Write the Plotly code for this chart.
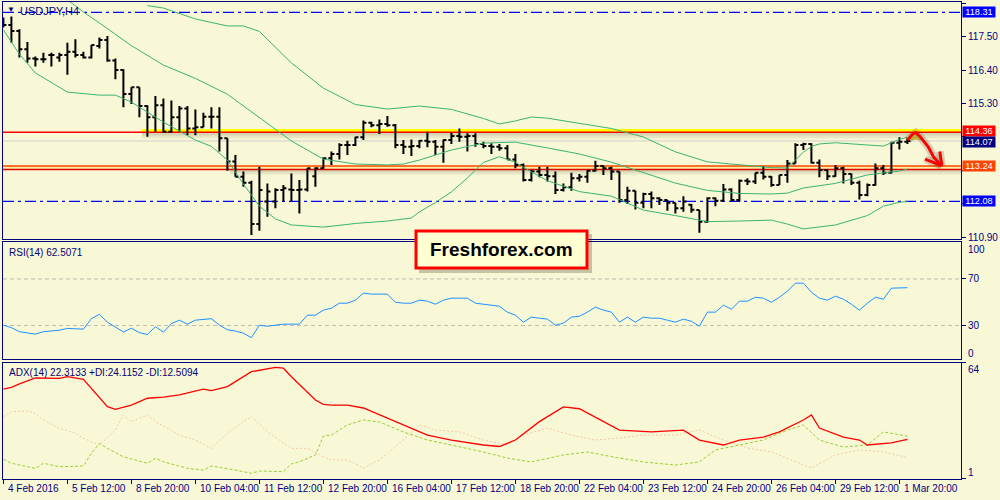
import plotly.graph_objects as go

# ---------------- data ----------------
bars = list(range(114))
opens = [118.03, 117.89, 117.69, 117.09, 116.79, 116.76, 116.90, 116.82, 116.90, 117.01,
         116.90, 116.82, 117.20, 117.40, 116.72, 116.41, 115.62, 115.84, 115.22, 114.85,
         115.25, 114.37, 114.85, 115.14, 114.48, 114.52, 114.87, 114.87, 114.16, 113.39,
         112.89, 112.69, 111.33, 112.07, 112.07, 112.45, 112.47, 112.45, 112.47, 112.91,
         113.17, 113.50, 113.64, 113.94, 113.94, 114.19, 114.67, 114.59, 114.63, 114.59,
         113.94, 113.88, 113.90, 114.08, 114.04, 113.88, 114.10, 114.23, 114.21, 114.23,
         113.97, 113.90, 113.88, 113.83, 113.46, 113.28, 112.78, 113.06, 112.95, 112.91,
         112.45, 112.54, 112.84, 112.89, 113.09, 113.24, 113.17, 113.06, 112.12, 112.43,
         112.03, 112.32, 112.18, 112.12, 112.03, 111.85, 111.97, 111.79, 111.41, 112.18,
         112.10, 112.47, 112.12, 112.76, 112.73, 113.02, 112.89, 112.62, 112.95, 113.33,
         113.94, 113.97, 113.35, 113.11, 112.91, 113.17, 112.98, 112.69, 112.29, 112.62,
         113.17, 113.02, 114.01, 114.04]
highs = [118.14, 118.17, 117.75, 117.33, 116.85, 116.98, 116.98, 116.98, 117.31, 117.42,
         117.01, 117.23, 117.48, 117.53, 116.79, 116.43, 115.84, 115.84, 115.25, 115.55,
         115.47, 115.40, 115.22, 115.22, 115.11, 115.00, 115.18, 115.18, 114.16, 113.61,
         113.06, 112.76, 113.22, 112.67, 112.51, 112.62, 113.00, 112.78, 113.17, 113.20,
         113.53, 113.72, 113.99, 114.08, 114.21, 114.74, 114.70, 114.78, 114.89, 114.63,
         114.10, 114.12, 114.10, 114.37, 114.10, 114.12, 114.34, 114.48, 114.32, 114.32,
         114.04, 113.99, 113.97, 113.94, 113.64, 113.33, 113.11, 113.22, 113.22, 113.06,
         112.67, 113.02, 112.98, 113.10, 113.42, 113.26, 113.22, 113.06, 112.56, 112.43,
         112.36, 112.40, 112.21, 112.12, 112.03, 112.25, 111.99, 111.79, 112.21, 112.21,
         112.65, 112.51, 112.80, 112.84, 113.02, 113.24, 112.91, 112.95, 113.44, 113.99,
         114.01, 113.99, 113.46, 113.12, 113.28, 113.22, 113.00, 112.76, 112.67, 113.33,
         113.28, 114.04, 114.19, 114.16]
lows = [117.81, 117.31, 116.82, 116.65, 116.52, 116.65, 116.52, 116.68, 116.25, 116.82,
        116.79, 116.79, 117.12, 116.68, 116.10, 115.18, 115.29, 114.85, 114.21, 114.37,
        114.34, 114.34, 114.37, 114.26, 114.26, 114.52, 114.48, 113.72, 113.09, 112.89,
        112.56, 110.97, 111.11, 111.57, 111.85, 112.07, 112.07, 111.68, 112.40, 112.56,
        113.15, 113.28, 113.46, 113.61, 113.90, 114.10, 114.52, 114.30, 114.54, 113.83,
        113.64, 113.57, 113.83, 113.86, 113.61, 113.35, 113.97, 114.04, 113.72, 113.88,
        113.83, 113.64, 113.75, 113.46, 113.17, 112.73, 112.73, 112.87, 112.73, 112.32,
        112.40, 112.43, 112.73, 112.69, 113.06, 112.95, 112.78, 112.03, 111.99, 111.81,
        111.85, 111.85, 111.96, 111.77, 111.68, 111.74, 111.70, 111.04, 111.37, 111.92,
        112.07, 112.07, 112.07, 112.62, 112.65, 112.80, 112.56, 112.62, 112.69, 113.33,
        113.77, 113.33, 112.87, 112.78, 112.89, 112.67, 112.62, 112.14, 112.25, 112.60,
        112.95, 113.00, 113.79, 113.97]
closes = [117.89, 117.69, 117.09, 116.79, 116.76, 116.76, 116.90, 116.90, 117.01, 116.90,
          116.82, 117.23, 117.40, 116.72, 116.41, 115.62, 115.84, 115.22, 114.85, 115.25,
          114.37, 114.85, 115.14, 114.48, 114.52, 114.87, 114.87, 114.16, 113.39, 112.89,
          112.69, 111.33, 112.45, 112.40, 112.45, 112.51, 112.45, 112.47, 113.17, 113.17,
          113.50, 113.64, 113.94, 113.94, 114.19, 114.67, 114.59, 114.63, 114.59, 113.94,
          113.88, 113.90, 114.08, 114.04, 113.88, 114.10, 114.23, 114.21, 114.23, 113.97,
          113.90, 113.88, 113.83, 113.46, 113.28, 112.78, 113.06, 112.95, 112.91, 112.45,
          112.54, 112.84, 112.89, 113.09, 113.24, 113.17, 113.06, 112.12, 112.43, 112.03,
          112.32, 112.18, 112.12, 112.03, 111.85, 112.07, 111.80, 111.41, 112.18, 112.10,
          112.47, 112.12, 112.76, 112.73, 113.02, 112.89, 112.62, 112.95, 113.33, 113.94,
          113.97, 113.35, 113.11, 112.91, 113.17, 112.98, 112.69, 112.29, 112.62, 113.17,
          113.02, 114.01, 114.04, 114.07]

bb_upper_x = [18, 20, 24, 28, 30, 32, 36, 40, 44, 48, 52, 56, 60, 62, 64, 66, 68, 72, 76, 80,
              84, 88, 92, 96, 98, 99, 100, 101, 102, 104, 108, 110, 112, 113]
bb_upper_y = [118.53, 118.45, 118.09, 117.86, 117.86, 117.68, 116.64, 115.81, 115.27, 115.12,
              115.22, 115.11, 114.81, 114.63, 114.73, 114.86, 114.82, 114.66, 114.48, 114.20,
              113.71, 113.38, 113.29, 113.19, 113.18, 113.44, 113.70, 113.89, 113.97, 114.01,
              113.94, 113.90, 114.12, 114.19]
bb_mid_x = [8, 10, 12, 16, 20, 24, 28, 32, 36, 40, 44, 48, 50, 52, 56, 60, 64, 68, 72, 76,
            80, 84, 88, 92, 96, 98, 100, 104, 108, 112, 113]
bb_mid_y = [118.72, 118.32, 117.96, 117.21, 116.57, 116.13, 115.61, 114.83, 114.07, 113.47,
            113.31, 113.28, 113.31, 113.44, 113.77, 114.00, 114.03, 113.84, 113.64, 113.37,
            113.03, 112.68, 112.44, 112.34, 112.32, 112.35, 112.52, 112.67, 112.95, 113.08, 113.14]
bb_lower_x = [0, 2, 4, 8, 12, 14, 16, 20, 24, 26, 28, 30, 32, 34, 36, 40, 44, 48, 51, 52,
              54, 56, 58, 60, 62, 64, 66, 68, 72, 76, 78, 80, 84, 88, 92, 96, 98, 100, 104,
              108, 110, 112, 113]
bb_lower_y = [117.73, 116.93, 116.31, 115.68, 115.58, 115.58, 115.35, 114.69, 114.10, 113.89,
              113.44, 112.65, 111.92, 111.50, 111.30, 111.23, 111.35, 111.43, 111.53, 111.73,
              112.04, 112.39, 112.85, 113.36, 113.55, 113.37, 113.05, 112.76, 112.40, 112.25,
              112.02, 111.79, 111.61, 111.41, 111.43, 111.46, 111.33, 111.17, 111.30, 111.61,
              111.92, 112.05, 112.07]

rsi = [30.3, 28.2, 24.7, 23.4, 22.6, 24.7, 25.2, 26.0, 27.5, 27.3,
       26.9, 35.9, 39.7, 32.9, 28.6, 24.5, 27.7, 23.9, 22.3, 29.0,
       24.3, 31.6, 34.6, 31.2, 34.6, 35.5, 35.9, 30.3, 26.4, 25.2,
       23.4, 19.6, 30.3, 29.4, 30.3, 31.2, 31.2, 31.2, 38.9, 38.9,
       43.2, 44.9, 49.2, 49.2, 51.8, 57.8, 57.0, 57.0, 57.0, 50.0,
       49.2, 49.2, 51.8, 50.9, 48.3, 51.8, 53.5, 53.5, 53.5, 49.2,
       48.3, 47.5, 46.6, 41.5, 38.9, 32.9, 37.2, 36.3, 35.5, 30.3,
       32.0, 37.2, 38.0, 41.5, 45.8, 43.2, 41.5, 32.9, 37.2, 32.9,
       37.2, 36.3, 36.3, 34.6, 32.9, 35.5, 33.7, 29.4, 41.5, 41.5,
       47.5, 44.0, 50.9, 50.9, 54.3, 53.5, 50.0, 54.3, 59.5, 66.4,
       66.4, 58.6, 53.5, 51.8, 55.2, 52.6, 48.3, 43.2, 49.2, 54.3,
       52.6, 62.1, 62.1, 62.5]

adx_x = [0, 1, 2, 4, 7, 8, 10, 13, 14, 16, 18, 20, 22, 25, 26, 28, 31, 34, 35, 36,
         39, 40, 41, 43, 45, 50, 53, 56, 60, 62, 64, 67, 70, 72, 75, 77, 81, 85, 87, 90,
         92, 95, 97, 100, 101, 102, 105, 107, 108, 111, 113]
adx_y = [49.6, 50.6, 52.5, 55.7, 55.5, 56.4, 55.0, 40.1, 38.7, 41.0, 44.7, 45.3, 46.5, 49.6,
         48.8, 51.0, 59.1, 61.5, 61.0, 56.4, 43.7, 41.4, 41.0, 41.0, 39.4, 30.2, 24.7, 22.0,
         19.3, 18.5, 22.0, 32.0, 40.0, 39.0, 31.8, 27.4, 26.4, 27.4, 22.0, 19.3, 22.0, 23.6,
         26.4, 32.9, 35.6, 28.5, 23.6, 22.0, 19.3, 20.4, 22.3]
pdi_x = [0, 1, 4, 5, 7, 8, 10, 11, 12, 13, 15, 18, 19, 20, 23, 25, 26, 29, 31, 32, 35, 36,
         37, 39, 40, 41, 43, 45, 47, 50, 53, 56, 60, 63, 66, 70, 73, 77, 80, 84, 87, 89, 92,
         95, 98, 100, 102, 105, 108, 110, 113]
pdi_y = [11.5, 9.4, 6.6, 9.4, 7.5, 7.5, 7.9, 14.8, 20.2, 17.5, 12.9, 9.4, 12.1, 10.2, 6.6,
         5.7, 7.9, 5.7, 3.9, 5.2, 4.8, 9.0, 10.2, 13.9, 24.2, 24.7, 30.2, 32.9, 31.8, 26.4,
         22.0, 19.3, 15.5, 12.2, 10.1, 13.9, 15.5, 12.2, 10.1, 8.4, 10.1, 16.6, 19.3, 22.0,
         27.4, 30.2, 22.0, 18.2, 19.3, 26.4, 24.1]
mdi_x = [0, 1, 3, 4, 5, 7, 9, 10, 12, 14, 15, 16, 18, 19, 22, 24, 26, 28, 30, 31, 33, 35,
         36, 38, 40, 41, 43, 45, 47, 50, 52, 54, 57, 60, 63, 65, 68, 71, 74, 77, 80, 84, 87,
         90, 93, 96, 99, 101, 104, 107, 110, 113]
mdi_y = [34.7, 37.4, 37.8, 36.5, 32.9, 28.4, 25.7, 22.9, 19.3, 27.4, 35.6, 32.0, 35.6, 32.0,
         24.7, 22.0, 17.5, 25.7, 32.0, 34.7, 26.5, 20.2, 17.5, 17.5, 12.9, 11.2, 11.2, 6.8,
         11.2, 22.0, 30.2, 27.4, 26.4, 22.0, 19.3, 24.7, 28.5, 24.7, 22.0, 23.1, 24.7, 24.7,
         27.4, 22.0, 17.7, 15.5, 10.1, 6.8, 13.9, 16.6, 15.5, 12.5]

x_tick_bars = [0, 8, 16, 24, 32, 40, 48, 56, 64, 72, 80, 88, 96, 104, 112]
x_tick_labels = ["4 Feb 2016", "5 Feb 12:00", "8 Feb 20:00", "10 Feb 04:00", "11 Feb 12:00",
                 "12 Feb 20:00", "16 Feb 04:00", "17 Feb 12:00", "18 Feb 20:00", "22 Feb 04:00",
                 "23 Feb 12:00", "24 Feb 20:00", "26 Feb 04:00", "29 Feb 12:00", "1 Mar 20:00"]
price_ticks = [118.60, 117.50, 116.40, 115.30, 114.20, 113.10, 112.00, 110.90]
price_tick_text = ["118.60", "117.50", "116.40", "115.30", "", "", "", "110.90"]

level_top = 118.31
level_res = 114.36
level_res_top = 114.46
level_bid = 114.07
level_sup = 113.24
level_sup_low = 113.13
level_bottom = 112.08

arrow_x = [113.0, 113.75, 114.05, 114.6, 115.6, 116.25, 116.9, 117.3, None,
           117.05, 117.3, None, 115.2, 117.3]
arrow_y = [114.10, 114.32, 114.34, 114.21, 113.88, 113.55, 113.35, 113.25, None,
           113.72, 113.25, None, 113.47, 113.25]
tri_x = [113.05, 113.9, 114.8, 113.05]
tri_y = [114.10, 114.39, 114.10, 114.10]

# ---------------- layout helpers ----------------
W, H = 1000, 500
ML, MR, MT, MB = 3, 39, 2, 21
PW = W - ML - MR
PH = H - MT - MB


def px(x):
    return (x - ML) / PW


def py(y):
    return (H - MB - y) / PH


BG = "#F8F8D6"
NAVY = "#000080"
GREEN = "#3CB371"
FONT = "Liberation Sans, Arial, sans-serif"
FS = 10
XR = [-0.05, 119.7]

fig = go.Figure()

for bx, by in [(bb_upper_x, bb_upper_y), (bb_mid_x, bb_mid_y), (bb_lower_x, bb_lower_y)]:
    fig.add_trace(go.Scatter(x=bx, y=by, mode="lines", line=dict(color=GREEN, width=1),
                             xaxis="x", yaxis="y", hoverinfo="skip"))

fig.add_trace(go.Ohlc(x=bars, open=opens, high=highs, low=lows, close=closes,
                      increasing=dict(line=dict(color="black", width=2)),
                      decreasing=dict(line=dict(color="black", width=2)),
                      tickwidth=0.38, xaxis="x", yaxis="y", hoverinfo="skip"))

fig.add_trace(go.Scatter(x=tri_x, y=tri_y, mode="lines", fill="toself",
                         fillcolor="rgba(205,195,40,0.85)", line=dict(width=0),
                         xaxis="x", yaxis="y", hoverinfo="skip"))
fig.add_trace(go.Scatter(x=arrow_x, y=arrow_y, mode="lines",
                         line=dict(color="rgba(60,40,20,0.18)", width=8),
                         xaxis="x", yaxis="y", hoverinfo="skip"))
fig.add_trace(go.Scatter(x=arrow_x, y=arrow_y, mode="lines",
                         line=dict(color="#FF0000", width=3),
                         xaxis="x", yaxis="y", hoverinfo="skip"))

fig.add_trace(go.Scatter(x=bars, y=rsi, mode="lines", line=dict(color="#1E90FF", width=1),
                         xaxis="x2", yaxis="y2", hoverinfo="skip"))
fig.add_trace(go.Scatter(x=mdi_x, y=mdi_y, mode="lines",
                         line=dict(color="#F2C8A8", width=1, dash="2px,2px"),
                         xaxis="x3", yaxis="y3", hoverinfo="skip"))
fig.add_trace(go.Scatter(x=pdi_x, y=pdi_y, mode="lines",
                         line=dict(color="#9ACD32", width=1, dash="3px,2px"),
                         xaxis="x3", yaxis="y3", hoverinfo="skip"))
fig.add_trace(go.Scatter(x=adx_x, y=adx_y, mode="lines", line=dict(color="#FF0000", width=1.3),
                         xaxis="x3", yaxis="y3", hoverinfo="skip"))

shapes = []
shapes.append(dict(type="rect", xref="paper", yref="y", x0=px(142), x1=1,
                   y0=level_res - 0.20, y1=level_res - 0.02, fillcolor="rgba(90,90,60,0.10)",
                   line=dict(width=0), layer="below"))
shapes.append(dict(type="rect", xref="paper", yref="y", x0=px(142), x1=1,
                   y0=level_res - 0.11, y1=level_res - 0.02, fillcolor="rgba(90,90,60,0.12)",
                   line=dict(width=0), layer="below"))
shapes.append(dict(type="rect", xref="paper", yref="y", x0=px(230), x1=1,
                   y0=level_sup_low - 0.17, y1=level_sup_low - 0.01, fillcolor="rgba(90,90,60,0.10)",
                   line=dict(width=0), layer="below"))
shapes.append(dict(type="rect", xref="paper", yref="y", x0=px(230), x1=1,
                   y0=level_sup_low - 0.09, y1=level_sup_low - 0.01, fillcolor="rgba(90,90,60,0.12)",
                   line=dict(width=0), layer="below"))
shapes.append(dict(type="rect", xref="paper", yref="y", x0=px(142), x1=1,
                   y0=level_res, y1=level_res_top, fillcolor="#FFFF00",
                   line=dict(width=0), layer="below"))
shapes.append(dict(type="rect", xref="paper", yref="y", x0=0, x1=1,
                   y0=level_sup_low, y1=level_sup, fillcolor="#FBEFA0",
                   line=dict(width=0), layer="below"))
shapes.append(dict(type="line", xref="paper", yref="y", x0=0, x1=1, y0=level_bid, y1=level_bid,
                   line=dict(color="#D0D0C8", width=1), layer="below"))
shapes.append(dict(type="line", xref="paper", yref="y", x0=0, x1=1, y0=level_res, y1=level_res,
                   line=dict(color="#FF0000", width=1.5), layer="below"))
shapes.append(dict(type="line", xref="paper", yref="y", x0=0, x1=1, y0=level_sup, y1=level_sup,
                   line=dict(color="#FF4500", width=1.5), layer="below"))
shapes.append(dict(type="line", xref="paper", yref="y", x0=0, x1=1, y0=level_sup_low, y1=level_sup_low,
                   line=dict(color="#E00000", width=1.5), layer="below"))
for lv in (level_top, level_bottom):
    shapes.append(dict(type="line", xref="paper", yref="y", x0=0, x1=1, y0=lv, y1=lv,
                       line=dict(color="#0000FF", width=1.2, dash="11px,4px,3px,4px"), layer="below"))
for lv in (70, 30):
    shapes.append(dict(type="line", xref="paper", yref="y2", x0=0, x1=1, y0=lv, y1=lv,
                       line=dict(color="#BDBDB0", width=1, dash="4px,3px"), layer="below"))
shapes.append(dict(type="rect", xref="paper", yref="paper", x0=px(419), x1=px(592),
                   y0=py(273), y1=py(234), fillcolor="rgba(60,60,40,0.28)",
                   line=dict(width=0), layer="above"))
shapes.append(dict(type="rect", xref="paper", yref="paper", x0=px(416), x1=px(587),
                   y0=py(268), y1=py(231), fillcolor="#FFFFD2",
                   line=dict(color="#FF0000", width=3), layer="above"))

ann = []
ann.append(dict(text="▼", xref="paper", yref="paper", x=px(5), y=py(10), xanchor="left",
                yanchor="middle", showarrow=False, font=dict(family=FONT, size=8, color=NAVY)))
ann.append(dict(text="USDJPY,H4", xref="paper", yref="paper", x=px(18), y=py(11), xanchor="left",
                yanchor="middle", showarrow=False, font=dict(family=FONT, size=11, color=NAVY)))
ann.append(dict(text="RSI(14) 62.5071", xref="paper", yref="paper", x=px(7), y=py(252),
                xanchor="left", yanchor="middle", showarrow=False,
                font=dict(family=FONT, size=FS, color=NAVY)))
ann.append(dict(text="ADX(14) 22.3133 +DI:24.1152 -DI:12.5094", xref="paper", yref="paper",
                x=px(7), y=py(372), xanchor="left", yanchor="middle", showarrow=False,
                font=dict(family=FONT, size=FS, color=NAVY)))
for b, t in zip(x_tick_bars, x_tick_labels):
    ann.append(dict(text=t, xref="x", yref="paper", x=b, y=py(489), xanchor="left",
                    yanchor="middle", xshift=3, showarrow=False,
                    font=dict(family=FONT, size=FS, color=NAVY)))
for txt, yy in (("100", 249), ("0", 353), ("64", 369), ("1", 472)):
    ann.append(dict(text=txt, xref="paper", yref="paper", x=px(966), y=py(yy), xanchor="left",
                    yanchor="middle", showarrow=False, font=dict(family=FONT, size=FS, color=NAVY)))
for lv, col, ys in ((level_top, "#0000FF", 0), (level_res, "#FF0000", 1), (level_bid, NAVY, -1),
                    (level_sup, "#FF4500", 0), (level_bottom, "#0000FF", 0)):
    ann.append(dict(text=f"{lv:.2f}", xref="paper", yref="y", x=px(962), y=lv, xanchor="left",
                    yanchor="middle", yshift=ys, showarrow=False, bgcolor=col, borderpad=0,
                    width=32, height=10, font=dict(family=FONT, size=9.2, color="white")))
ann.append(dict(text="<b>Freshforex.com</b>", xref="paper", yref="paper", x=px(501.5), y=py(249.5),
                xanchor="center", yanchor="middle", showarrow=False,
                font=dict(family="Liberation Sans, Arial, sans-serif", size=19, color="black")))

axis_common = dict(showline=True, mirror=True, linecolor=NAVY, linewidth=1, showgrid=False,
                   zeroline=False, fixedrange=True)

fig.update_layout(
    width=W, height=H, margin=dict(l=ML, r=MR, t=MT, b=MB),
    paper_bgcolor=BG, plot_bgcolor=BG, showlegend=False, hovermode=False,
    shapes=shapes, annotations=ann,
    xaxis=dict(domain=[0, 1], anchor="y", range=XR, showticklabels=False, ticks="",
               rangeslider=dict(visible=False), **axis_common),
    xaxis2=dict(domain=[0, 1], anchor="y2", range=XR, matches="x", showticklabels=False,
                ticks="", **axis_common),
    xaxis3=dict(domain=[0, 1], anchor="y3", range=XR, matches="x", showticklabels=False,
                ticks="outside", ticklen=4, tickcolor=NAVY, tickvals=x_tick_bars, **axis_common),
    yaxis=dict(domain=[py(239), 1], range=[110.838, 118.649], side="right",
               tickvals=price_ticks, ticktext=price_tick_text,
               ticks="outside", ticklen=4, tickcolor=NAVY,
               tickfont=dict(family=FONT, size=FS, color=NAVY), **axis_common),
    yaxis2=dict(domain=[py(359.3), py(241.7)], range=[1, 102], side="right",
                tickvals=[70, 30], ticktext=["70", "30"], ticks="outside", ticklen=4,
                tickcolor=NAVY, tickfont=dict(family=FONT, size=FS, color=NAVY), **axis_common),
    yaxis3=dict(domain=[py(478.7), py(362.7)], range=[1, 64], side="right",
                tickvals=[64, 1], ticktext=["", ""], ticks="outside", ticklen=4,
                tickcolor=NAVY, **axis_common),
)

fig.write_html("out.html", config={"displayModeBar": False},
               post_script="document.body.style.margin='0px';document.body.style.overflow='hidden';")
